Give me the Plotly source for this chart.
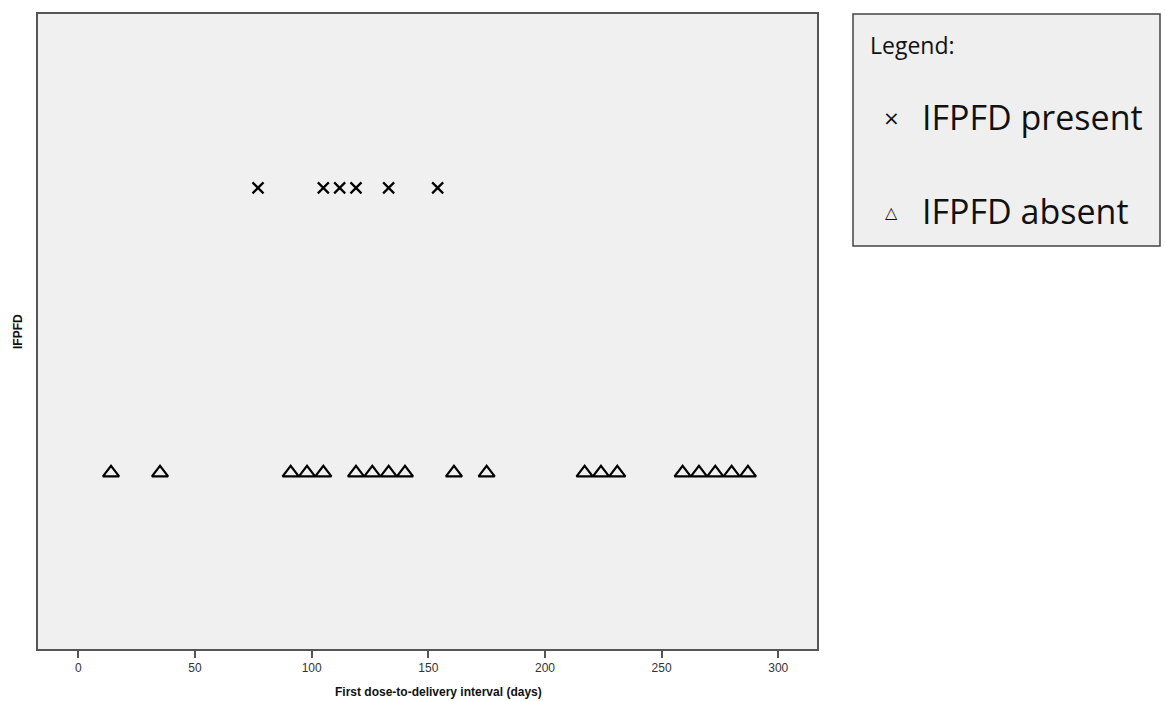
import plotly.graph_objects as go

# ---- data (days) ----
present_days = [77, 105, 112, 119, 133, 154]
absent_days = [14, 35, 91, 98, 105, 119, 126, 133, 140, 161, 175,
               217, 224, 231, 259, 266, 273, 280, 287]
group_names = ["IFPFD present", "IFPFD absent"]
group_levels = [1, 0]
x_tick_vals = [0, 50, 100, 150, 200, 250, 300]

W, H = 1165, 701
L, R, T, B = 38, 817, 14, 649

fig = go.Figure()
fig.add_trace(go.Scatter(
    x=present_days, y=[group_levels[0]] * len(present_days),
    mode="markers", name=group_names[0],
    marker=dict(symbol="x-thin-open", size=11, color="black",
                line=dict(color="black", width=2.2)),
))
fig.add_trace(go.Scatter(
    x=absent_days, y=[group_levels[1]] * len(absent_days),
    mode="markers", name=group_names[1],
    marker=dict(symbol="triangle-up-open", size=14, color="black",
                line=dict(color="black", width=2.2)),
))

axis_line = dict(showline=True, linecolor="#555555", linewidth=2, mirror=True,
                 showgrid=False, zeroline=False)
fig.update_xaxes(range=[-17.3, 316.6], tickvals=x_tick_vals, ticks="outside",
                 ticklen=7, tickwidth=1.5, tickcolor="#555555",
                 tickfont=dict(family="Liberation Sans, Arial", size=12, color="#333333"),
                 **axis_line)
fig.update_yaxes(range=[-0.618, 1.61], showticklabels=False, ticks="", **axis_line)

pw, ph = R - L, B - T

def px(x):
    return (x - L) / pw

def py(y):
    return (B - y) / ph

def ann(text, x, y, size, family, xanchor="center", angle=0):
    return dict(text=text, x=px(x), y=py(y), xref="paper", yref="paper",
                xanchor=xanchor, yanchor="middle", showarrow=False,
                textangle=angle, font=dict(family=family, size=size, color="#111111"))

annotations = [
    ann("<b>First dose-to-delivery interval (days)</b>", 438, 692, 12, "Liberation Sans, Arial"),
    ann("<b>IFPFD</b>", 18, 332, 12, "Liberation Sans, Arial", angle=-90),
    ann("Legend:", 868, 45, 23, "Open Sans", xanchor="left"),
    ann("×", 892, 118, 20, "DejaVu Sans"),
    ann(group_names[0], 920, 117, 34, "Open Sans", xanchor="left"),
    ann("△", 892, 213, 16, "DejaVu Sans"),
    ann(group_names[1], 920, 211, 34, "Open Sans", xanchor="left"),
]

shapes = [
    dict(type="rect", xref="paper", yref="paper", x0=px(853), x1=px(1160),
         y0=py(246), y1=py(14), line=dict(color="#444444", width=1.5),
         fillcolor="#efefef", layer="below"),
]

fig.update_layout(
    width=W, height=H,
    margin=dict(l=L, r=W - R, t=T, b=H - B),
    paper_bgcolor="white", plot_bgcolor="#f0f0f0",
    showlegend=False,
    annotations=annotations, shapes=shapes,
)

fig.write_html("out.html", config={"displayModeBar": False},
               post_script="document.body.style.margin='0';document.body.style.padding='0';")
